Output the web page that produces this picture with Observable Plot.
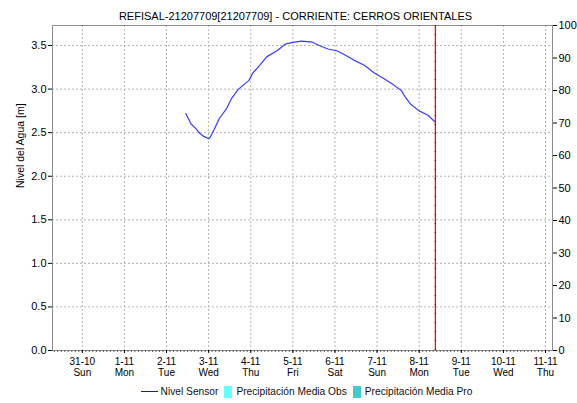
<!DOCTYPE html>
<html><head><meta charset="utf-8">
<script src="https://cdn.jsdelivr.net/npm/d3@7"></script>
<script src="https://cdn.jsdelivr.net/npm/@observablehq/plot@0.6"></script>
<style>
body{margin:0;background:#fff;font-family:"Liberation Sans",Arial,sans-serif;}
#legend{display:flex;justify-content:center;align-items:center;height:23px;font-size:10.2px;color:#111;padding-left:36px;box-sizing:border-box;}
#legend .it{display:flex;align-items:center;margin:0 3px;}
#legend .ln{width:17px;height:0;border-top:1.5px solid #1414e6;margin-right:3px;}
#legend .sq{width:8px;height:12px;margin-right:4px;}
</style></head><body>
<div id="chart"></div>
<div id="legend">
  <div class="it"><span class="ln"></span>Nivel Sensor</div>
  <div class="it"><span class="sq" style="background:#66ffff"></span>Precipitación Media Obs</div>
  <div class="it"><span class="sq" style="background:#40cccc"></span>Precipitación Media Pro</div>
</div>
<script>
const title = "REFISAL-21207709[21207709] - CORRIENTE: CERROS ORIENTALES";
const yLabel = "Nivel del Agua [m]";
const tickDates = ["2021-10-31","2021-11-01","2021-11-02","2021-11-03","2021-11-04","2021-11-05","2021-11-06","2021-11-07","2021-11-08","2021-11-09","2021-11-10","2021-11-11"];
const xTickLabels = ["31-10","1-11","2-11","3-11","4-11","5-11","6-11","7-11","8-11","9-11","10-11","11-11"];
const weekdayLabels = ["Sun","Mon","Tue","Wed","Thu","Fri","Sat","Sun","Mon","Tue","Wed","Thu"];
const leftTicks = [0,0.5,1,1.5,2,2.5,3,3.5];
const rightTicks = [0,10,20,30,40,50,60,70,80,90,100];
const times = [
 "2021-11-02T11:00","2021-11-02T14:00","2021-11-02T17:00","2021-11-02T19:00","2021-11-02T21:00",
 "2021-11-03T00:00","2021-11-03T01:00","2021-11-03T03:00","2021-11-03T06:00","2021-11-03T10:00",
 "2021-11-03T13:00","2021-11-03T17:00","2021-11-03T23:00","2021-11-04T01:00","2021-11-04T05:00",
 "2021-11-04T09:00","2021-11-04T15:00","2021-11-04T20:00","2021-11-05T01:00","2021-11-05T05:00",
 "2021-11-05T11:00","2021-11-05T15:00","2021-11-05T20:00","2021-11-06T01:00","2021-11-06T05:00",
 "2021-11-06T11:00","2021-11-06T17:00","2021-11-06T22:00","2021-11-07T04:00","2021-11-07T10:00",
 "2021-11-07T14:00","2021-11-07T16:00","2021-11-07T19:00","2021-11-08T00:00","2021-11-08T05:00",
 "2021-11-08T09:15"];
const levels = [
 2.72,2.60,2.54,2.49,2.46,
 2.43,2.45,2.53,2.66,2.77,
 2.89,3.00,3.10,3.18,3.27,
 3.37,3.44,3.52,3.54,3.55,
 3.54,3.50,3.46,3.44,3.40,
 3.33,3.27,3.19,3.12,3.04,
 2.98,2.91,2.83,2.75,2.70,
 2.62];
const nowTime = "2021-11-08T09:15";
const xStart = "2021-10-30T07:00", xEnd = "2021-11-11T04:00";
const yMax = 3.73;

const U = s => new Date(s + (s.length === 10 ? "T00:00Z" : "Z"));
const data = times.map((t, i) => ({t: U(t), v: levels[i]}));
const tickD = tickDates.map(U);
const labMap = new Map(tickD.map((d, i) => [+d, xTickLabels[i] + "\n" + weekdayLabels[i]]));
const hourTicks = d3.utcHour.every(2).range(U(xStart), U(xEnd));

const plot = Plot.plot({
  width: 577, height: 380,
  marginTop: 25, marginLeft: 52, marginRight: 25, marginBottom: 30,
  style: {fontFamily: "Liberation Sans, Arial, sans-serif", fontSize: "11px", color: "#000", background: "#fff"},
  x: {type: "utc", domain: [U(xStart), U(xEnd)]},
  y: {domain: [0, yMax]},
  marks: [
    Plot.gridX(tickD, {stroke: "#b4b4b4", strokeOpacity: 1, strokeDasharray: "2,2"}),
    Plot.gridY(leftTicks.filter(d => d > 0), {stroke: "#b4b4b4", strokeOpacity: 1, strokeDasharray: "2,2"}),
    Plot.frame({stroke: "#8c8c8c"}),
    Plot.axisX({ticks: hourTicks, tickSize: 2, tickFormat: () => "", stroke: "#606060", label: null}),
    Plot.axisX(tickD, {tickSize: 3, tickPadding: 3, tickFormat: d => labMap.get(+d), fontSize: 10, lineHeight: 1.15, label: null}),
    Plot.axisY(leftTicks, {tickSize: 4, tickPadding: 2, tickFormat: d => d.toFixed(1), label: null}),
    Plot.axisY(rightTicks.map(v => v / 100 * yMax), {anchor: "right", tickSize: 4, tickPadding: 2, tickFormat: d => String(Math.round(d / yMax * 100)), label: null}),
    Plot.line(data, {x: "t", y: "v", stroke: "#3b3bff", strokeWidth: 1.2}),
    Plot.ruleX([U(nowTime)], {stroke: "#e81010", strokeWidth: 1.3}),
    Plot.ruleX([U(nowTime)], {stroke: "#700000", strokeWidth: 1.3, strokeDasharray: "1,8"}),
    Plot.text([yLabel], {frameAnchor: "left", dx: -32, rotate: -90, fontSize: 10.5}),
    Plot.text([title], {frameAnchor: "top", dy: -13, dx: -7, fontSize: 11})
  ]
});
document.getElementById("chart").appendChild(plot);
</script>
</body></html>
